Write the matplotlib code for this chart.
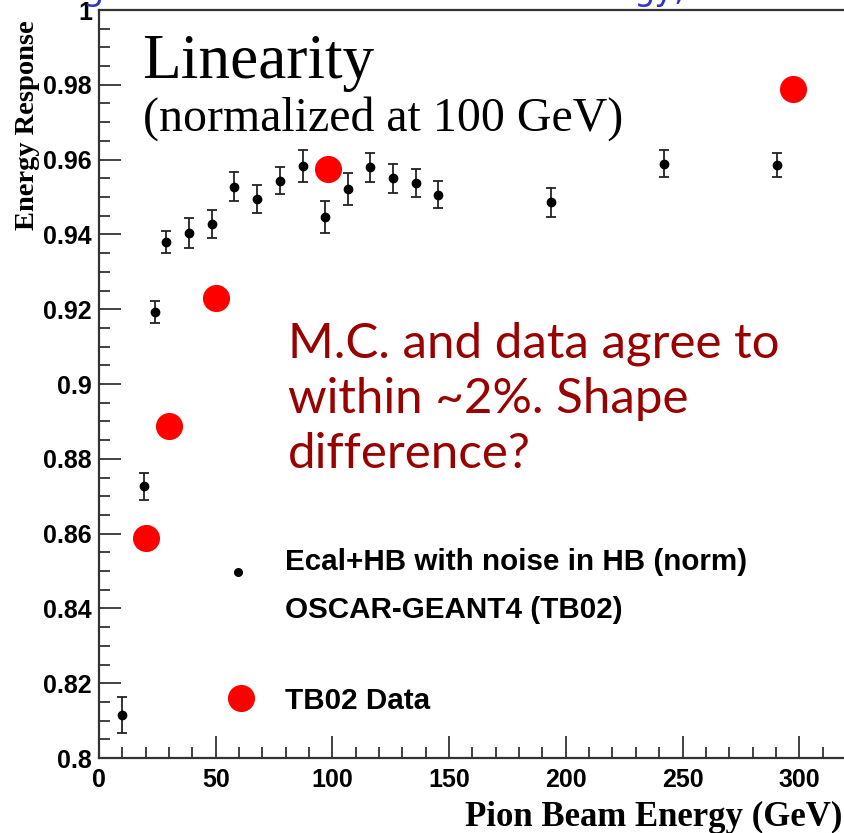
import matplotlib
matplotlib.use("Agg")
import matplotlib.pyplot as plt
from matplotlib.ticker import MultipleLocator, FuncFormatter

# Monte Carlo (OSCAR-GEANT4) response, normalized at 100 GeV
mc_energy = [9.7, 19.3, 24.1, 28.8, 38.6, 48.3, 58.0, 67.8, 77.4, 87.3,
             96.8, 106.5, 116.2, 126.0, 135.7, 145.2, 193.7, 242.2, 290.6]
mc_resp = [0.8115, 0.8726, 0.9193, 0.9380, 0.9403, 0.9428, 0.9527, 0.9495,
           0.9544, 0.9582, 0.9447, 0.9521, 0.9579, 0.9550, 0.9538, 0.9506,
           0.9486, 0.9589, 0.9586]
mc_err = [0.0047, 0.0036, 0.0030, 0.0030, 0.0040, 0.0037, 0.0039, 0.0038,
          0.0036, 0.0043, 0.0043, 0.0042, 0.0039, 0.0038, 0.0038, 0.0036,
          0.0039, 0.0036, 0.0032]

# TB02 test-beam data
data_energy = [20.0, 29.8, 50.1, 98.1, 297.2]
data_resp = [0.8589, 0.8889, 0.9230, 0.9574, 0.9788]

x_ticks = [0, 50, 100, 150, 200, 250, 300]
y_ticks = [0.80, 0.82, 0.84, 0.86, 0.88, 0.90, 0.92, 0.94, 0.96, 0.98, 1.00]

W, H = 845, 833
fig = plt.figure(figsize=(W / 100, H / 100), dpi=100)
ax = fig.add_axes([99 / W, (H - 758) / H, (W - 99) / W, 748 / H])

ax.set_xlim(0, (W - 99) / 2.334)
ax.set_ylim(0.8, 1.0)

frame = "#333333"
for side in ("left", "bottom", "top"):
    ax.spines[side].set_linewidth(1.6)
    ax.spines[side].set_color(frame)
ax.spines["right"].set_visible(False)

ax.set_xticks(x_ticks)
ax.set_yticks(y_ticks)
ax.xaxis.set_minor_locator(MultipleLocator(10))
ax.yaxis.set_minor_locator(MultipleLocator(0.005))
ax.yaxis.set_major_formatter(FuncFormatter(lambda v, p: f"{v:g}"))
ax.tick_params(which="both", direction="in", top=False, right=False,
               color=frame, width=1.3)
ax.tick_params(which="major", length=16)
ax.tick_params(which="minor", length=8)
ax.tick_params(axis="x", which="major", pad=7)
ax.tick_params(axis="y", which="major", pad=5)
for lab in ax.get_xticklabels() + ax.get_yticklabels():
    lab.set_fontfamily("Liberation Sans")
    lab.set_fontweight("bold")
    lab.set_fontsize(18)

ax.errorbar(mc_energy, mc_resp, yerr=mc_err, fmt="o", color="black",
            ecolor="#222222", markersize=6, elinewidth=1.3, capsize=3.5,
            capthick=1.3, zorder=3)
ax.plot(data_energy, data_resp, "o", color="#ff0000", markersize=19.5,
        markeredgewidth=0, zorder=4)

# Titles inside the frame
fig.text(142 / W, 1 - 78 / H, "Linearity",
         family="Liberation Serif", fontsize=45.5, ha="left", va="baseline")
fig.text(143 / W, 1 - 131 / H, "(normalized at 100 GeV)",
         family="Liberation Serif", fontsize=34.5, ha="left", va="baseline")

# Comment in dark red
note_lines = ["M.C. and data agree to", "within ~2%. Shape", "difference?"]
note_base = [357, 413, 468]
for line, yb in zip(note_lines, note_base):
    fig.text(288 / W, 1 - yb / H, line, family="Lato", fontsize=35.5,
             color="#990000", ha="left", va="baseline")

# Legend entries
ax.plot([238 / W], [1 - 572 / H], "o", color="black", markersize=5.5,
        transform=fig.transFigure, clip_on=False)
fig.text(285 / W, 1 - 562 / H, "Ecal+HB with noise in HB (norm)",
         family="Liberation Sans", fontweight="bold", fontsize=21.3,
         ha="left", va="center")
fig.text(285 / W, 1 - 610 / H, "OSCAR-GEANT4 (TB02)",
         family="Liberation Sans", fontweight="bold", fontsize=21.3,
         ha="left", va="center")
ax.plot([241 / W], [1 - 698 / H], "o", color="#ff0000", markersize=19.5,
        markeredgewidth=0, transform=fig.transFigure, clip_on=False)
fig.text(285 / W, 1 - 701 / H, "TB02 Data",
         family="Liberation Sans", fontweight="bold", fontsize=21.3,
         ha="left", va="center")

# Axis titles
fig.text(842 / W, 1 - 826 / H, "Pion Beam Energy (GeV)",
         family="Liberation Serif", fontweight="bold", fontsize=25,
         ha="right", va="baseline")
fig.text(28 / W, 1 - 125 / H, "Energy Response", rotation=90,
         family="Liberation Serif", fontweight="bold", fontsize=20.5,
         ha="center", va="center")

# Slide heading running off the top edge
fig.text(82 / W, 1.0, "g", family="DejaVu Sans", fontsize=24,
         color="#3333cc", ha="left", va="baseline")
fig.text(633 / W, 1.0, "gy,", family="DejaVu Sans", fontsize=24,
         color="#3333cc", ha="left", va="baseline")

fig.savefig("out.png", dpi=100)
